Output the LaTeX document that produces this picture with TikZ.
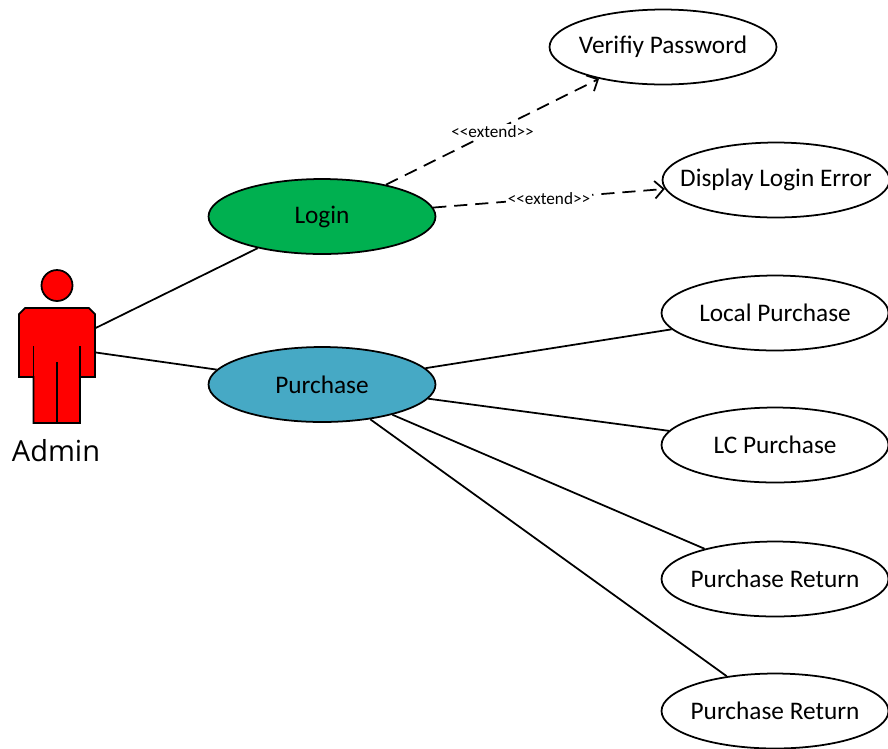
\documentclass[tikz,border=0pt]{standalone}
\usepackage{fontspec}
\setmainfont{Carlito}
\newfontfamily\actorfont{Open Sans}
\usetikzlibrary{shapes.geometric,arrows.meta}
\definecolor{logingreen}{HTML}{00B050}
\definecolor{purchaseblue}{HTML}{46A9C5}
\tikzset{
  usecase/.style={draw,ellipse,line width=1pt,fill=white,minimum width=4.54cm,minimum height=1.5cm,inner xsep=-0.5cm,inner ysep=-0.2cm,font=\fontsize{14.4}{17}\selectfont},
  assoc/.style={line width=1pt},
  extendline/.style={line width=1pt,dash pattern=on 7.5pt off 4.5pt,-{Straight Barb[length=5pt,width=10pt]}},
  extendlabel/.style={fill=white,inner sep=1pt,font=\fontsize{9.8}{11}\selectfont},
  actorpart/.style={draw,line width=1pt,fill=red}
}
\begin{document}
\begin{tikzpicture}[x=0.02cm,y=-0.02cm]
  \useasboundingbox (0,0) rectangle (888,748);
  \node[usecase,fill=logingreen] (login) at (322,216.5) {Login};
  \node[usecase,fill=purchaseblue] (purchase) at (322,384.5) {Purchase};
  \node[usecase] (verify) at (663,47) {Verifiy Password};
  \node[usecase] (error) at (776,180) {Display Login Error};
  \node[usecase] (local) at (775,313) {Local Purchase};
  \node[usecase] (lc) at (775,445) {LC Purchase};
  \node[usecase] (return) at (775,579) {Purchase Return};
  \node[usecase] (returntwo) at (775,711) {Purchase Return};
  \node[minimum width=1.52cm,minimum height=3.06cm,inner sep=0pt] (admin) at (57,347) {};
  \node[font=\actorfont\fontsize{16.5}{20}\selectfont] (adminlabel) at (56,451) {Admin};
  \draw[actorpart] (57,285.5) circle (15.5);
  \draw[actorpart] (25,308) -- (89,308) -- (95,314) -- (95,377) -- (80,377) -- (80,423)
     -- (33.5,423) -- (33.5,377) -- (19,377) -- (19,314) -- cycle;
  \draw[line width=1pt] (33.5,346) -- (33.5,377);
  \draw[line width=1pt] (80,346) -- (80,377);
  \draw[line width=1.6pt] (57,362) -- (57,423);
  \draw[assoc] (admin) -- (login);
  \draw[assoc] (admin) -- (purchase);
  \foreach \n in {local,lc,return,returntwo}
     \draw[assoc] (purchase) -- (\n);
  \draw[extendline] (login) -- (verify) node[midway,extendlabel] (extendone) {<{}<extend>{}>};
  \draw[extendline] (login) -- (error) node[midway,extendlabel] (extendtwo) {<{}<extend>{}>};
\end{tikzpicture}
\end{document}
